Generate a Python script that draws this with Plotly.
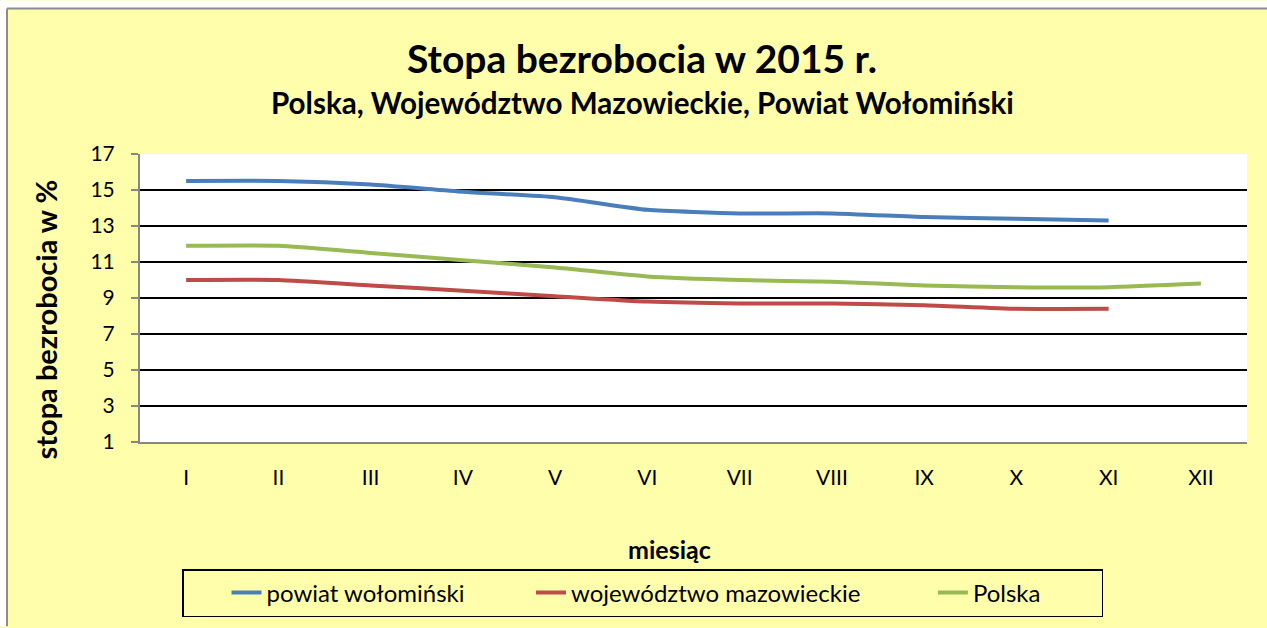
import plotly.graph_objects as go

# ── Data ──────────────────────────────────────────────────────────────────────
MONTHS = ["I", "II", "III", "IV", "V", "VI", "VII", "VIII", "IX", "X", "XI", "XII"]

POWIAT = [15.5, 15.5, 15.3, 14.9, 14.6, 13.9, 13.7, 13.7, 13.5, 13.4, 13.3, None]
WOJEWODZTWO = [10.0, 10.0, 9.7, 9.4, 9.1, 8.8, 8.7, 8.7, 8.6, 8.4, 8.4, None]
POLSKA = [11.9, 11.9, 11.5, 11.1, 10.7, 10.2, 10.0, 9.9, 9.7, 9.6, 9.6, 9.8]

Y_TICKS = [1, 3, 5, 7, 9, 11, 13, 15, 17]

# ── Style ─────────────────────────────────────────────────────────────────────
BG = "#FFFFAB"
FONT = "Lato"
BLUE = "#4A7EBB"
RED = "#BE4B48"
GREEN = "#98B954"
FRAME = "#8C8C8C"
NBSP = "\u00a0"

W, H = 1267, 628
M_L, M_R, M_T, M_B = 140, 20, 154, 185


def px_x(x):
    return (x - M_L) / (W - M_L - M_R)


def px_y(y):
    return (H - M_B - y) / (H - M_T - M_B)


fig = go.Figure()
# trailing padding widens the legend entries like in the original
for name, vals, color, pad in [
    ("powiat wołomiński", POWIAT, BLUE, 3),
    ("województwo mazowieckie", WOJEWODZTWO, RED, 4),
    ("Polska", POLSKA, GREEN, 9),
]:
    fig.add_trace(go.Scatter(
        x=MONTHS, y=vals, name=name + NBSP * pad, mode="lines",
        line=dict(color=color, width=4, shape="spline", smoothing=0.5),
    ))

fig.update_layout(
    width=W, height=H,
    paper_bgcolor=BG,
    plot_bgcolor="white",
    margin=dict(l=M_L, r=M_R, t=M_T, b=M_B),
    font=dict(family=FONT, color="black", size=21),
    xaxis=dict(
        type="category", range=[-0.5, 11.5],
        showline=True, linecolor="#868686", linewidth=2,
        showgrid=False, ticks="", tickfont=dict(size=21), ticklabelstandoff=16,
    ),
    yaxis=dict(
        range=[1, 17], tickvals=Y_TICKS,
        showline=True, linecolor="#868686", linewidth=2,
        ticks="outside", ticklen=7, tickcolor="#868686", tickwidth=2,
        showgrid=True, gridcolor="black", gridwidth=2,
        zeroline=False, tickfont=dict(size=21), ticklabelstandoff=12,
    ),
    legend=dict(
        orientation="h", x=px_x(182), xanchor="left", y=px_y(569), yanchor="top",
        bgcolor=BG, bordercolor="black", borderwidth=1.5,
        font=dict(size=24), indentation=43,
    ),
    annotations=[
        dict(text="<b>Stopa bezrobocia w 2015 r.</b>", xref="paper", yref="paper",
             x=px_x(642), y=px_y(58), xanchor="center", yanchor="middle",
             showarrow=False, font=dict(size=39)),
        dict(text="<b>Polska, Województwo Mazowieckie, Powiat Wołomiński</b>",
             xref="paper", yref="paper", x=px_x(642), y=px_y(102),
             xanchor="center", yanchor="middle", showarrow=False, font=dict(size=29.6)),
        dict(text="<b>stopa bezrobocia w %</b>", xref="paper", yref="paper",
             x=px_x(45), y=px_y(320), xanchor="center", yanchor="middle",
             textangle=-90, showarrow=False, font=dict(size=29)),
        dict(text="<b>miesiąc</b>", xref="paper", yref="paper",
             x=px_x(669), y=px_y(550), xanchor="center", yanchor="middle",
             showarrow=False, font=dict(size=25)),
    ],
    shapes=[
        # white page strips round the chart area and its grey frame
        dict(type="rect", xref="paper", yref="paper", x0=px_x(0), x1=px_x(W), y0=px_y(8), y1=px_y(0),
             fillcolor="white", line=dict(width=0), layer="below"),
        dict(type="rect", xref="paper", yref="paper", x0=px_x(0), x1=px_x(7), y0=px_y(H), y1=px_y(0),
             fillcolor="white", line=dict(width=0), layer="below"),
        dict(type="line", xref="paper", yref="paper", x0=px_x(7), x1=px_x(W), y0=px_y(8), y1=px_y(8),
             line=dict(color=FRAME, width=2)),
        dict(type="line", xref="paper", yref="paper", x0=px_x(7), x1=px_x(7), y0=px_y(8), y1=px_y(H),
             line=dict(color=FRAME, width=2)),
    ],
)

fig.write_html(
    "out.html",
    config={"displayModeBar": False},
    post_script="document.body.style.margin='0';"
                "document.body.style.overflow='hidden';"
                "document.documentElement.style.overflow='hidden';",
)
